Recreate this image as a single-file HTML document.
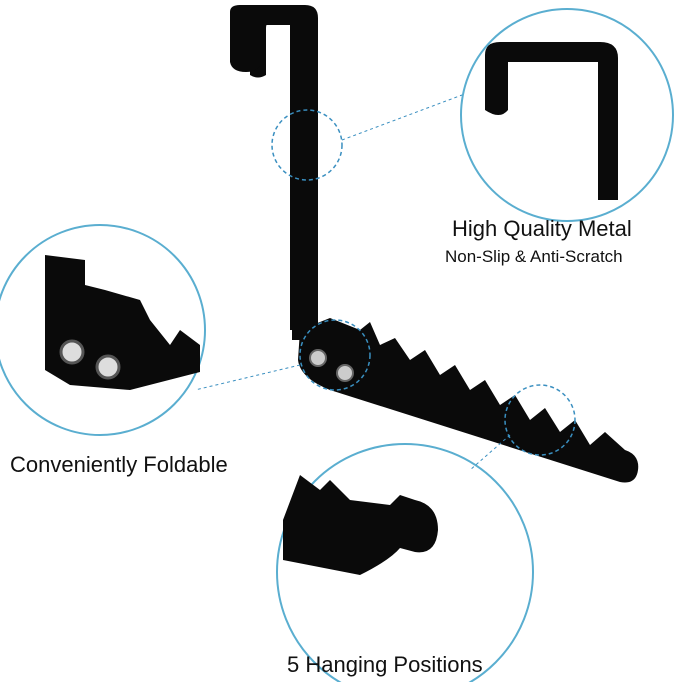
<!DOCTYPE html>
<html><head><style>
body{margin:0;background:#fff;width:679px;height:682px;overflow:hidden}
svg{display:block}
text{font-family:"Liberation Sans",sans-serif;fill:#111}
</style></head><body>
<svg width="679" height="682" viewBox="0 0 679 682">
<!-- main hook -->
<path d="M250,75 L250,22 Q250,8 264,8 L302,8 Q316,8 316,22 L316,340 L292,340 L292,28 Q292,22 286,22 L272,22 Q266,22 266,28 L266,75 Q258,80 250,75Z" fill="#0a0a0a"/>
<path d="M230,62 L230,12 Q230,5 240,5 L305,5 Q318,5 318,18 L318,330 L290,330 L290,25 L262,25 L262,62 Q258,72 246,72 Q232,72 230,62Z" fill="#0a0a0a"/>
<!-- arm -->
<path d="M300,330 L330,318 L360,330 L370,322 L380,345 L395,338 L410,360 L425,350 L440,375 L455,365 L470,390 L485,380 L500,405 L515,395 L530,420 L545,408 L560,432 L575,420 L590,445 L605,432 L625,450 Q640,455 638,470 Q636,485 620,482 L330,390 Q300,378 298,360Z" fill="#0a0a0a"/>
<circle cx="318" cy="358" r="8" fill="#ccc" stroke="#666" stroke-width="2"/>
<circle cx="345" cy="373" r="8" fill="#ccc" stroke="#666" stroke-width="2"/>
<!-- big circles -->
<circle cx="567" cy="115" r="106" fill="#fff" stroke="#5aaed0" stroke-width="2"/>
<circle cx="100" cy="330" r="105" fill="#fff" stroke="#5aaed0" stroke-width="2"/>
<circle cx="405" cy="572" r="128" fill="#fff" stroke="#5aaed0" stroke-width="2"/>
<!-- contents top circle -->
<path d="M485,110 L485,55 Q485,42 500,42 L600,42 Q618,42 618,58 L618,200 L598,200 L598,62 L508,62 L508,110 Q500,120 485,110Z" fill="#0a0a0a"/>
<!-- contents left circle -->
<path d="M45,255 L45,370 L70,385 L130,390 L200,372 L200,345 L180,330 L170,345 L150,320 L140,300 L105,290 L85,285 L85,260Z" fill="#0a0a0a"/>
<path d="M0,0" />
<circle cx="72" cy="352" r="11" fill="#ddd" stroke="#555" stroke-width="3"/>
<circle cx="108" cy="367" r="11" fill="#ddd" stroke="#555" stroke-width="3"/>
<!-- contents bottom circle -->
<path d="M283,520 L300,475 L320,490 L330,480 L350,500 L390,505 L400,495 L415,500 Q438,505 438,530 Q436,555 415,552 L400,548 Q390,560 360,575 L283,560Z" fill="#0a0a0a"/>
<!-- dashed small circles -->
<circle cx="307" cy="145" r="35" fill="none" stroke="#3a8fc0" stroke-width="1.5" stroke-dasharray="4,3"/>
<circle cx="335" cy="355" r="35" fill="none" stroke="#3a8fc0" stroke-width="1.5" stroke-dasharray="4,3"/>
<circle cx="540" cy="420" r="35" fill="none" stroke="#3a8fc0" stroke-width="1.5" stroke-dasharray="4,3"/>
<line x1="342" y1="140" x2="462" y2="95" stroke="#3a8fc0" stroke-width="1" stroke-dasharray="3,3"/>
<line x1="300" y1="365" x2="195" y2="390" stroke="#3a8fc0" stroke-width="1" stroke-dasharray="3,3"/>
<line x1="510" y1="435" x2="470" y2="470" stroke="#3a8fc0" stroke-width="1" stroke-dasharray="3,3"/>
<!-- text -->
<text x="452" y="236" font-size="22">High Quality Metal</text>
<text x="445" y="262" font-size="17">Non-Slip &amp; Anti-Scratch</text>
<text x="10" y="472" font-size="22">Conveniently Foldable</text>
<text x="287" y="672" font-size="22">5 Hanging Positions</text>
</svg>
</body></html>
